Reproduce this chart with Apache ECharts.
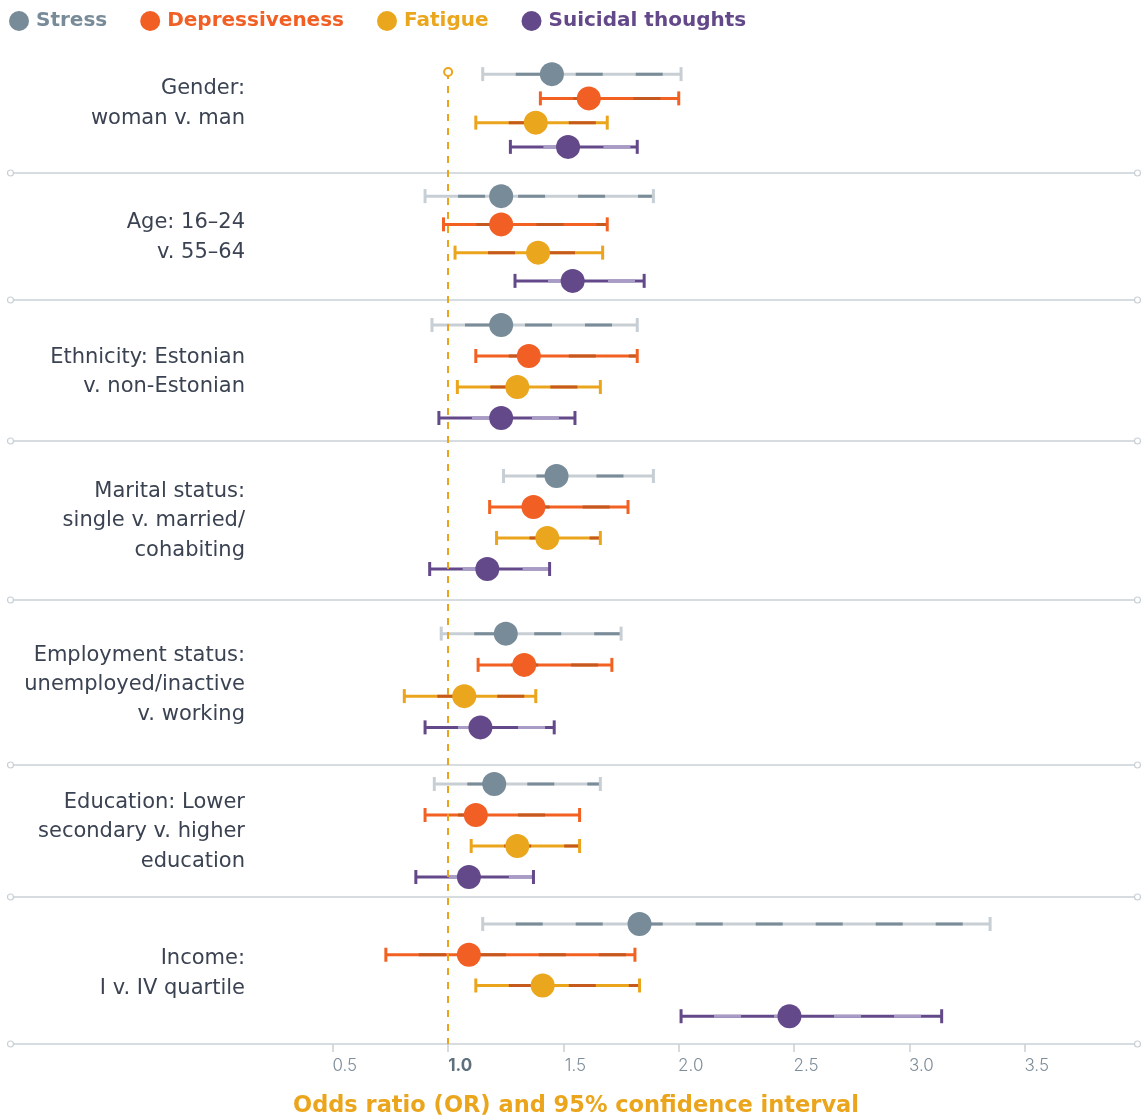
<!DOCTYPE html>
<html>
<head>
<meta charset="utf-8">
<script src="https://cdn.jsdelivr.net/npm/echarts@6/dist/echarts.min.js"></script>
<style>
html,body{margin:0;padding:0;background:#fff;}
#chart{width:1141px;height:1120px;}
</style>
</head>
<body>
<div id="chart"></div>
<script>
// ---- data ----
const measures = ['Stress', 'Depressiveness', 'Fatigue', 'Suicidal thoughts'];
const groupLabels = [
  'Gender:\nwoman v. man',
  'Age: 16–24\nv. 55–64',
  'Ethnicity: Estonian\nv. non-Estonian',
  'Marital status:\nsingle v. married/\ncohabiting',
  'Employment status:\nunemployed/inactive\nv. working',
  'Education: Lower\nsecondary v. higher\neducation',
  'Income:\nI v. IV quartile'
];
// [lower 95% CI, odds ratio, upper 95% CI] per group
const stress = [[1.15,1.45,2.01],[0.90,1.23,1.89],[0.93,1.23,1.82],[1.24,1.47,1.89],[0.97,1.25,1.75],[0.94,1.20,1.66],[1.15,1.83,3.35]];
const depressiveness = [[1.40,1.61,2.00],[0.98,1.23,1.69],[1.12,1.35,1.82],[1.18,1.37,1.78],[1.13,1.33,1.71],[0.90,1.12,1.57],[0.73,1.09,1.81]];
const fatigue = [[1.12,1.38,1.69],[1.03,1.39,1.67],[1.04,1.30,1.66],[1.21,1.43,1.66],[0.81,1.07,1.38],[1.10,1.30,1.57],[1.12,1.41,1.83]];
const suicidal = [[1.27,1.52,1.82],[1.29,1.54,1.85],[0.96,1.23,1.55],[0.92,1.17,1.44],[0.90,1.14,1.46],[0.86,1.09,1.37],[2.01,2.48,3.14]];
const xTicks = [0, 0.5, 1.0, 1.5, 2.0, 2.5, 3.0, 3.5, 4.0];
const referenceOR = 1.0;
const axisTitle = 'Odds ratio (OR) and 95% confidence interval';

const measureData = [stress, depressiveness, fatigue, suicidal];

// ---- styles / layout ----
const FONT = '"DejaVu Sans", sans-serif';
const TICKFONT = 'Inter, "Noto Sans", sans-serif';
const pointColors = ['#778b98', '#f15f24', '#eaa61d', '#634989'];
const baseColors  = ['#c7cfd5', '#f26122', '#eba51c', '#634989'];
const dashColors  = ['#7a8c98', '#c4581f', '#c65a1c', '#a89cc6'];
const capColors   = ['#c7cfd5', '#f26122', '#eba51c', '#634989'];
const gridLayout = [[62,97],[182,113],[309.5,124],[460.5,124],[618,125],[768.5,124],[908.6,123]];
const labelCenters = [103.5, 237.5, 372, 521, 685, 832, 973.5];
const separators = [173, 300, 441, 600, 765, 897, 1044];
const GRID_LEFT = 217.5, GRID_WIDTH = 922.5;

const grids = [], xAxes = [], yAxes = [], series = [];
gridLayout.forEach((g, gi) => {
  grids.push({left: GRID_LEFT, width: GRID_WIDTH, top: g[0], height: g[1]});
  xAxes.push({type: 'value', gridIndex: gi, min: xTicks[0], max: xTicks[xTicks.length-1], show: false});
  yAxes.push({type: 'category', gridIndex: gi, data: measures, inverse: true, show: false});
});
// overlay grid for the shared x axis and reference line
const OV = gridLayout.length;
grids.push({left: GRID_LEFT, width: GRID_WIDTH, top: 72, height: 972});
xAxes.push({
  type: 'value', gridIndex: OV, min: xTicks[0], max: xTicks[xTicks.length-1], interval: xTicks[1]-xTicks[0],
  axisLine: {show: false},
  splitLine: {show: false},
  axisTick: {show: true, length: 8, lineStyle: {color: '#c7cfd5', width: 1.5}},
  axisLabel: {
    margin: 13, fontFamily: TICKFONT, fontSize: 17, fontWeight: 300, color: '#7d8d99',
    padding: [0, 0, 0, 24],
    showMinLabel: false, showMaxLabel: false,
    formatter: v => v === referenceOR ? '{b|' + v.toFixed(1) + '}' : v.toFixed(1),
    rich: {b: {fontFamily: TICKFONT, fontSize: 17, fontWeight: 'bold', color: '#5e707c'}}
  }
});
yAxes.push({type: 'value', gridIndex: OV, min: 0, max: 1, show: false});
series.push({
  type: 'scatter', xAxisIndex: OV, yAxisIndex: OV, data: [], silent: true, z: 1,
  markLine: {
    silent: true, animation: false,
    symbol: ['emptyCircle', 'none'], symbolSize: 8,
    label: {show: false},
    lineStyle: {color: '#eba51c', width: 2, type: [7, 7]},
    data: [[{coord: [referenceOR, 1]}, {coord: [referenceOR, 0]}]]
  }
});

measures.forEach((m, mi) => {
  measureData[mi].forEach((row, gi) => {
    series.push({
      name: m, type: 'custom', xAxisIndex: gi, yAxisIndex: gi, z: 3, silent: true,
      encode: {x: [0, 1], y: 2},
      data: [[row[0], row[2], mi]],
      renderItem: (params, api) => {
        const p0 = api.coord([api.value(0), api.value(2)]);
        const p1 = api.coord([api.value(1), api.value(2)]);
        const y = p0[1];
        return {type: 'group', children: [
          {type: 'line', shape: {x1: p0[0], y1: y, x2: p1[0], y2: y}, style: {stroke: baseColors[mi], lineWidth: 3}},
          {type: 'line', shape: {x1: p0[0], y1: y, x2: p1[0], y2: y}, style: {stroke: dashColors[mi], lineWidth: 3, lineDash: [27, 33], lineDashOffset: 27}},
          {type: 'line', shape: {x1: p0[0], y1: y - 7, x2: p0[0], y2: y + 7}, style: {stroke: capColors[mi], lineWidth: 3}},
          {type: 'line', shape: {x1: p1[0], y1: y - 7, x2: p1[0], y2: y + 7}, style: {stroke: capColors[mi], lineWidth: 3}}
        ]};
      }
    });
    series.push({
      name: m, type: 'scatter', xAxisIndex: gi, yAxisIndex: gi, z: 5,
      symbol: 'circle', symbolSize: 24,
      itemStyle: {color: pointColors[mi], opacity: 1},
      emphasis: {disabled: true},
      data: [[row[1], mi]]
    });
  });
});

const graphic = [];
separators.forEach(y => {
  graphic.push({type: 'line', silent: true, z: 0, shape: {x1: 13, y1: y, x2: 1135, y2: y}, style: {stroke: '#c8d0d6', lineWidth: 1.5}});
  graphic.push({type: 'circle', silent: true, shape: {cx: 10.5, cy: y, r: 3}, style: {fill: '#fff', stroke: '#c8d0d6', lineWidth: 1.2}});
  graphic.push({type: 'circle', silent: true, shape: {cx: 1137.5, cy: y, r: 3}, style: {fill: '#fff', stroke: '#c8d0d6', lineWidth: 1.2}});
});
groupLabels.forEach((t, gi) => {
  graphic.push({type: 'text', silent: true, x: 245, y: labelCenters[gi],
    style: {text: t, align: 'right', verticalAlign: 'middle', font: '400 21px ' + FONT, lineHeight: 29.5, fill: '#3b4352'}});
});
graphic.push({type: 'text', silent: true, x: 576, y: 1106,
  style: {text: axisTitle, align: 'center', verticalAlign: 'middle', font: 'bold 22.5px ' + FONT, fill: '#eba51c'}});

const chart = echarts.init(document.getElementById('chart'), null, {renderer: 'canvas'});
chart.setOption({
  animation: false,
  backgroundColor: '#fff',
  legend: {
    left: 9, top: 11, padding: 0, itemWidth: 20, itemHeight: 20, itemGap: 33, icon: 'circle',
    data: measures.map((m, mi) => ({name: m, itemStyle: {color: pointColors[mi]}, textStyle: {color: pointColors[mi]}})),
    textStyle: {fontFamily: FONT, fontSize: 20, fontWeight: 'bold', padding: [0, 0, 0, 2]}
  },
  grid: grids, xAxis: xAxes, yAxis: yAxes, series: series, graphic: graphic
});
</script>
</body>
</html>
